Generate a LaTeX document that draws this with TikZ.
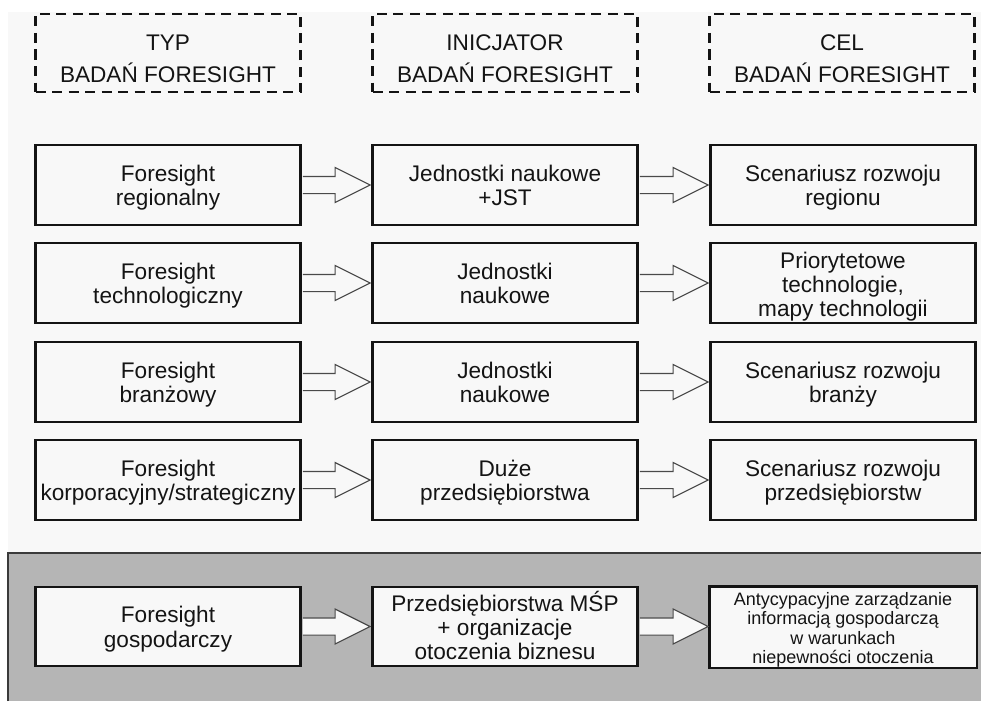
\documentclass[tikz,border=0pt]{standalone}
\usepackage{fontspec}
\setmainfont{Liberation Sans}
\usetikzlibrary{calc}
\definecolor{bglight}{HTML}{F8F8F8}
\definecolor{bggray}{HTML}{B5B5B5}
\definecolor{bordgray}{HTML}{3A3A3A}
\definecolor{arrowgray}{HTML}{4A4A4A}
\definecolor{ink}{HTML}{141414}
% #1 box node, #2 first baseline offset below centre, #3 line spacing, #4 style, #5 lines
\newcommand\boxlines[5]{%
  \foreach \linetext [count=\i] in {#5} {%
    \node[#4, anchor=base] (#1-\i) at ($(#1.center)+(0,{#2+(\i-1)*#3})$) {\linetext};
  }}
\newcommand\fatarrow[2]{%
  \draw[arr] let \p1=(#1.east), \p2=(#2.west) in
    (\x1+1.2pt,\y1+8.6pt) -- (\x2-36.2pt,\y1+8.6pt) -- (\x2-36.2pt,\y1+17.5pt)
    -- (\x2-1.2pt,\y1) -- (\x2-36.2pt,\y1-17.5pt) -- (\x2-36.2pt,\y1-8.6pt)
    -- (\x1+1.2pt,\y1-8.6pt);}
\begin{document}
\begin{tikzpicture}[x=1pt,y=-1pt,
  box/.style={draw=ink, line width=2.4pt, fill=bglight, minimum width=265pt,
    minimum height=80pt, inner sep=0pt},
  hdr/.style={draw=ink, line width=2.3pt, dash pattern=on 10pt off 6.5pt,
    minimum width=265pt, minimum height=78pt, inner sep=0pt},
  txt/.style={inner sep=0pt, text=ink, font=\fontsize{22.6}{24.3}\selectfont},
  smalltxt/.style={inner sep=0pt, text=ink, font=\fontsize{18}{19.3}\selectfont},
  arr/.style={draw=arrowgray, line width=1.2pt, fill=bglight, line join=miter}
]
\useasboundingbox (0,0) rectangle (981,701);
% backgrounds
\fill[white] (0,0) rectangle (981,701);
\fill[bglight] (8,12) rectangle (981,553);
\fill[bggray] (8,553) rectangle (981,701);
\draw[bordgray, line width=1.5pt] (8,701) -- (8,553) -- (981,553);
% headers
\node[hdr] (h1) at (168,53) {};
\node[hdr] (h2) at (505,53) {};
\node[hdr] (h3) at (842,53) {};
\boxlines{h1}{-3}{32}{txt}{TYP,BADAŃ FORESIGHT}
\boxlines{h2}{-3}{32}{txt}{INICJATOR,BADAŃ FORESIGHT}
\boxlines{h3}{-3}{32}{txt}{CEL,BADAŃ FORESIGHT}
% row 1
\node[box] (a1) at (168,185) {};
\node[box] (a2) at (505,185) {};
\node[box] (a3) at (843,185) {};
\boxlines{a1}{-3.6}{24.3}{txt}{Foresight,regionalny}
\boxlines{a2}{-3.6}{24.3}{txt}{Jednostki naukowe,+JST}
\boxlines{a3}{-3.6}{24.3}{txt}{Scenariusz rozwoju,regionu}
% row 2
\node[box] (b1) at (168,283) {};
\node[box] (b2) at (505,283) {};
\node[box] (b3) at (843,283) {};
\boxlines{b1}{-3.6}{24.3}{txt}{Foresight,technologiczny}
\boxlines{b2}{-3.6}{24.3}{txt}{Jednostki,naukowe}
\boxlines{b3}{-14.5}{24}{txt}{Priorytetowe,{technologie,},mapy technologii}
% row 3
\node[box] (c1) at (168,382) {};
\node[box] (c2) at (505,382) {};
\node[box] (c3) at (843,382) {};
\boxlines{c1}{-3.6}{24.3}{txt}{Foresight,branżowy}
\boxlines{c2}{-3.6}{24.3}{txt}{Jednostki,naukowe}
\boxlines{c3}{-3.6}{24.3}{txt}{Scenariusz rozwoju,branży}
% row 4
\node[box] (d1) at (168,480) {};
\node[box] (d2) at (505,480) {};
\node[box] (d3) at (843,480) {};
\boxlines{d1}{-3.6}{24.3}{txt}{Foresight,korporacyjny/strategiczny}
\boxlines{d2}{-3.6}{24.3}{txt}{Duże,przedsiębiorstwa}
\boxlines{d3}{-3.6}{24.3}{txt}{Scenariusz rozwoju,przedsiębiorstw}
% row 5
\node[box, minimum height=79pt] (e1) at (168,626.5) {};
\node[box, minimum height=79pt] (e2) at (505,626.5) {};
\node[box, draw=none, minimum height=79pt] (e3) at (843,627) {};
\boxlines{e1}{-3.6}{24.3}{txt}{Foresight,gospodarczy}
\boxlines{e2}{-15.5}{24}{txt}{Przedsiębiorstwa MŚP,+ organizacje,otoczenia biznesu}
\begin{scope}
  \clip (e3.south west) rectangle (e3.north east);
  \boxlines{e3}{-21.6}{19.3}{smalltxt}{Antycypacyjne zarządzanie,informacją gospodarczą,w warunkach,niepewności otoczenia}
\end{scope}
\draw[ink, line width=2.4pt] (e3.south west) rectangle (e3.north east);
% arrows
\fatarrow{a1}{a2}
\fatarrow{a2}{a3}
\fatarrow{b1}{b2}
\fatarrow{b2}{b3}
\fatarrow{c1}{c2}
\fatarrow{c2}{c3}
\fatarrow{d1}{d2}
\fatarrow{d2}{d3}
\fatarrow{e1}{e2}
\fatarrow{e2}{e3}
\end{tikzpicture}
\end{document}
